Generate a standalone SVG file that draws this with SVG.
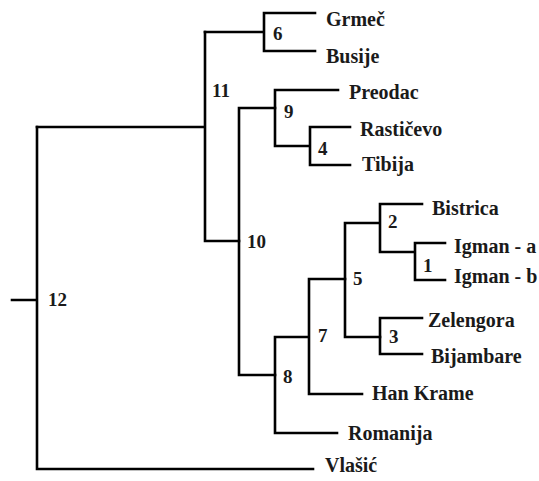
<svg xmlns="http://www.w3.org/2000/svg" width="539" height="481" viewBox="0 0 539 481">
<style>
.e{fill:none;stroke:#000;stroke-width:2.6;stroke-linecap:square;stroke-linejoin:miter}
.t{font-family:"Liberation Serif","Times New Roman",serif;font-weight:bold;font-size:20px;fill:#1a1a1a}
.n{font-size:19px}
</style>
<rect width="539" height="481" fill="#fff"/>
<g id="connectors">
<path class="e" d="M12,300H37M37,127V469H313"/>
<path class="e" d="M37,127H205M205,32V241H239"/>
<path class="e" d="M205,32H264M264,13V51M264,13H315M264,51H315"/>
<path class="e" d="M239,108V375H275M239,108H275"/>
<path class="e" d="M275,90V146H310M275,90H338M310,127V165M310,127H350M310,165H350"/>
<path class="e" d="M275,337V433H337M275,337H309M309,279V394H362M309,279H345"/>
<path class="e" d="M345,223V337H380M345,223H380M380,204V252H415M380,204H422M415,243V280M415,243H445M415,280H445"/>
<path class="e" d="M380,318V354M380,318H422M380,354H422"/>
</g>
<g id="n12"><text class="t n" x="48" y="306">12</text></g>
<g id="n11"><text class="t n" x="212" y="97">11</text></g>
<g id="n10"><text class="t n" x="247" y="248">10</text></g>
<g id="n6"><text class="t n" x="273" y="40">6</text></g>
<g id="n9"><text class="t n" x="284" y="118">9</text></g>
<g id="n4"><text class="t n" x="318" y="155">4</text></g>
<g id="n8"><text class="t n" x="283" y="383">8</text></g>
<g id="n7"><text class="t n" x="318" y="342">7</text></g>
<g id="n5"><text class="t n" x="353" y="285">5</text></g>
<g id="n2"><text class="t n" x="388" y="228">2</text></g>
<g id="n1"><text class="t n" x="423" y="272">1</text></g>
<g id="n3"><text class="t n" x="389" y="343">3</text></g>
<g id="grmec"><text class="t" x="326" y="26">Grmeč</text></g>
<g id="busije"><text class="t" x="326" y="63">Busije</text></g>
<g id="preodac"><text class="t" x="349" y="99">Preodac</text></g>
<g id="rasticevo"><text class="t" x="360" y="136">Rastičevo</text></g>
<g id="tibija"><text class="t" x="362" y="171">Tibija</text></g>
<g id="bistrica"><text class="t" x="432" y="215">Bistrica</text></g>
<g id="igmana"><text class="t" x="454" y="253">Igman - a</text></g>
<g id="igmanb"><text class="t" x="454" y="283">Igman - b</text></g>
<g id="zelengora"><text class="t" x="428" y="327">Zelengora</text></g>
<g id="bijambare"><text class="t" x="431" y="363">Bijambare</text></g>
<g id="hankrame"><text class="t" x="372" y="400">Han Krame</text></g>
<g id="romanija"><text class="t" x="348" y="440">Romanija</text></g>
<g id="vlasic"><text class="t" x="325" y="472">Vlašić</text></g>
</svg>
